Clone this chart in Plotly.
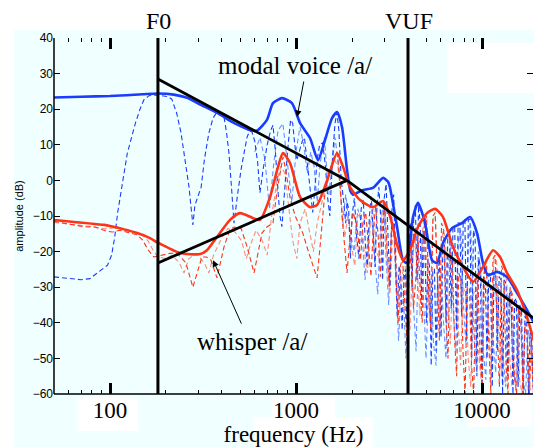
import numpy as np
import plotly.graph_objects as go

# ---------------- data ----------------
modal_env_f = [50, 70, 100, 150, 181, 220, 260, 300, 350, 400, 450, 500, 560, 617, 698, 752, 841, 951, 1052,
               1189, 1312, 1431, 1562, 1662, 1767, 1880, 1960, 2024, 2291, 2593, 2937, 3125, 3200, 3491, 3760,
               3950, 4257, 4528, 4940, 5386, 5730, 6170, 6900, 7800, 8620, 9400, 10120, 10770, 12040, 13620,
               15410, 17440, 19000]
modal_env_db = [23.3, 23.5, 23.7, 24.2, 24.4, 24.1, 23.2, 21.5, 19.8, 18.2, 16.5, 15.3, 14.2, 14.0, 17.0, 21.7,
                23.1, 21.7, 16.1, 11.9, 5.7, 11.3, 17.5, 19.2, 15.0, 3.0, -3.0, -4.0, -2.7, -2.1, 0.7, -0.4,
                -2.0, -13.0, -22.4, -23.2, -10.3, -6.3, -12.0, -22.4, -23.2, -17.6, -13.4, -12.0, -10.3, -14.8,
                -23.2, -26.6, -25.7, -27.1, -31.6, -36.4, -40.0]

whisper_env_f = [50, 93, 100, 140, 164, 181, 238, 305, 332, 376, 442, 500, 588, 640, 725, 800, 851, 929, 1052,
                 1189, 1297, 1469, 1662, 1790, 1950, 2210, 2593, 2937, 3200, 3491, 3760, 4100, 4528, 5060, 5590,
                 6170, 6980, 7900, 8950, 10120, 11460, 12500, 13620, 15410, 17440, 19000]
whisper_env_db = [-11.1, -12.5, -12.8, -14.8, -16.2, -17.5, -20.4, -20.7, -19.6, -15.9, -11.1, -9.2, -10.6, -11.1,
                  -4.7, 3.8, 7.7, 4.9, -4.7, -7.5, -6.9, 0.0, 7.7, 3.8, -1.9, -5.5, -7.5, -5.8, -10.0, -18.0,
                  -22.4, -19.6, -13.1, -9.2, -8.0, -10.3, -18.7, -24.3, -28.5, -24.3, -19.6, -21.5, -26.0, -30.8,
                  -38.4, -45.0]

modal_harm_f = [50, 61, 70, 78, 88, 97, 102, 106, 110, 114, 119, 124, 131, 137, 145, 152, 162, 175, 190, 205, 215,
                228, 241, 255, 266, 272, 279, 286, 298, 309, 322, 340, 358, 376, 393, 410, 423, 436, 450, 464, 485,
                506, 527, 546, 563, 580, 600, 622, 640, 665, 700, 730, 752, 775, 800, 820, 840, 862, 900, 935, 960,
                985, 1010, 1040, 1080, 1110, 1150, 1190, 1230, 1260, 1300, 1340, 1390, 1440, 1480, 1520, 1570, 1620,
                1660, 1700, 1750, 1800, 1850, 1880, 1920, 1960, 2000, 2060, 2120, 2180, 2240, 2300, 2360, 2420,
                2480, 2540, 2600, 2660, 2720, 2790, 2850, 2920, 2980, 3050, 3120, 3200, 3280, 3350, 3420, 3500,
                3580, 3650, 3720, 3800, 3880, 3960, 4040, 4120, 4200, 4290, 4380, 4470, 4560, 4650, 4740, 4830,
                4920, 5020, 5120, 5220, 5330, 5440, 5550, 5660, 5780, 5900, 6020, 6150, 6280, 6410, 6550, 6690,
                6830, 6980, 7130, 7280, 7440, 7600, 7760, 7920, 8090, 8260, 8440, 8620, 8800, 8990, 9180, 9380,
                9580, 9790, 10000, 10200, 10420, 10650, 10880, 11110, 11350, 11600, 11850, 12100, 12360, 12630,
                12900, 13180, 13460, 13750, 14050, 14350, 14660, 14980, 15300, 15630, 15970, 16310, 16660, 17020,
                17390, 17770, 18150, 18550, 18900]
modal_harm_db = [-27.1, -27.5, -27.9, -27.6, -25.5, -23.8, -21, -16, -9, -3.5, 2, 7.7, 12.5, 16.1, 20, 22.6, 23.8,
                 24, 23.8, 23.5, 22.8, 19, 13.3, 5, -1.9, -7, -12.5, -7, -4, -1.9, 6, 13.3, 17.5, 19.2, 19, 17.8,
                 13.5, 7.7, -2, -12, -4, 2.9, 8, 12.2, 13.8, 13.6, 11, 5, -3.5, 3, 10, 14, 15.5, 8, -3, -10, -13,
                 -5, 8, 17, 16, 10, 5.7, 8, 11, 12, 5, -3, -9, -3, 6, 10, 10.5, 4, -5, -10, 6, 16, 19, 14, 0, -5.5,
                 -12, -6, -8, -22, -10, -5, -16, -22, -8, -5.5, -18, -24, -10, -4.6, -14, -24.3, -8, -1.9, -10, -28,
                 -5, -1, -15, -30, -8, -4, -20, -38, -24, -26, -42, -28, -25, -45, -20, -12, -30, -11, -7, -28, -7,
                 -12, -35, -14, -14, -40, -22, -24, -52, -25, -25, -48, -27, -22, -44, -20, -18, -40, -15, -14, -36,
                 -13, -13, -42, -12, -12, -38, -12, -11, -45, -11, -11, -50, -14, -16, -55, -22, -24, -60, -27, -28,
                 -50, -26, -27, -58, -26, -27, -48, -27, -28, -60, -28, -29, -55, -31, -32, -60, -33, -34, -58, -35,
                 -37, -60, -38, -40, -60, -42, -46, -60]

modal_harm2_f = [600, 640, 680, 720, 760, 800, 850, 900, 950, 1000, 1050, 1100, 1150, 1200, 1250, 1300, 1350, 1420,
                 1500, 1560, 1620, 1700, 1780, 1850, 1950, 2050, 2150, 2250, 2350, 2450, 2550, 2650, 2750, 2850,
                 2950, 3050, 3150, 3250, 3350, 3450, 3560, 3670, 3780, 3900, 4020, 4150, 4280, 4420, 4560, 4700,
                 4850, 5000, 5160, 5320, 5490, 5660, 5840, 6020, 6210, 6400, 6600, 6810, 7020, 7240, 7470, 7700,
                 7940, 8190, 8450, 8710, 8980, 9260, 9550, 9850, 10160, 10480, 10800, 11140, 11490, 11850, 12220,
                 12600, 13000, 13400, 13820, 14260, 14700, 15160, 15640, 16130, 16630, 17150, 17690, 18240, 18800]
modal_harm2_db = [8, 12, 6, -8, 5, 14, 16, 5, -6, 8, 15, 10, 2, 8, 4, -6, 5, 12, -4, 4, 12, 4, -12, -4, -14, -20,
                  -8, -12, -28, -14, -10, -22, -32, -12, -6, -22, -35, -15, -12, -30, -45, -30, -32, -50, -28, -15,
                  -35, -48, -18, -16, -36, -50, -30, -28, -46, -52, -30, -26, -40, -50, -22, -18, -38, -48, -16, -14,
                  -35, -46, -16, -14, -40, -52, -20, -26, -48, -56, -30, -30, -45, -54, -30, -31, -50, -58, -32, -34,
                  -52, -58, -37, -40, -56, -60, -42, -46, -58]

whisper_harm_f = [50, 62, 72, 83, 95, 103, 113, 125, 140, 150, 160, 172, 190, 210, 229, 256, 279, 301, 312, 330, 349,
                  376, 410, 440, 464, 506, 546, 595, 625, 656, 700, 752, 790, 830, 851, 880, 930, 990, 1088, 1150,
                  1230, 1297, 1350, 1420, 1500, 1600, 1662, 1720, 1780, 1880, 1950, 2030, 2129, 2220, 2290, 2370,
                  2450, 2530, 2600, 2680, 2760, 2840, 2920, 3000, 3080, 3170, 3260, 3350, 3440, 3540, 3640, 3740,
                  3840, 3950, 4060, 4170, 4280, 4400, 4520, 4640, 4770, 4900, 5030, 5170, 5310, 5450, 5600, 5750,
                  5900, 6060, 6220, 6390, 6560, 6740, 6920, 7110, 7300, 7500, 7700, 7900, 8110, 8330, 8550, 8780,
                  9020, 9260, 9510, 9770, 10030, 10300, 10580, 10860, 11150, 11450, 11760, 12080, 12400, 12740,
                  13080, 13430, 13790, 14160, 14540, 14930, 15330, 15740, 16160, 16600, 17040, 17500, 17970, 18450,
                  18900]
whisper_harm_db = [-11.5, -12.5, -13, -13.1, -14.2, -14.5, -14, -14.6, -15.3, -16.8, -19.5, -21.5, -21, -20.5,
                   -20.4, -23.2, -30, -24.3, -21.5, -21.5, -22.4, -27.4, -18.7, -14, -13.1, -13.4, -18.7, -26, -20,
                   -14.8, -13, -12, -3, 4, 6.6, 3, -5, -10, -14.8, -19, -24, -27.4, -18, -5, 2, 6.5, 7.7, 0, -12,
                   -26, -16, -9, -13, -22.4, -12, -9, -18, -27, -14, -7.5, -15, -27.1, -12, -7, -18, -30, -14, -12,
                   -26, -40, -24, -22, -34, -45, -26, -20, -36, -28, -15, -30, -40, -12, -10, -32, -42, -10, -9, -30,
                   -45, -12, -14, -38, -50, -20, -22, -44, -55, -26, -28, -48, -60, -30, -30, -52, -60, -30, -28, -50,
                   -58, -26, -24, -45, -60, -22, -21, -42, -58, -24, -26, -50, -60, -30, -32, -55, -60, -35, -37, -60,
                   -40, -43, -60, -45, -60]

whisper_harm2_f = [50, 65, 80, 95, 110, 125, 140, 150, 160, 170, 181, 200, 215, 235, 250, 265, 290, 320, 340, 360,
                   400, 430, 470, 510, 540, 570, 610, 660, 700, 740, 790, 830, 870, 920, 960, 1010, 1050, 1120, 1180,
                   1240, 1300, 1380, 1450, 1530, 1600, 1680, 1760, 1830, 1900, 1980, 2070, 2150, 2240, 2330, 2420,
                   2510, 2600, 2700, 2800, 2900, 3000, 3100, 3200, 3300, 3400, 3500, 3620, 3740, 3860, 3980, 4100,
                   4230, 4360, 4500, 4640, 4790, 4940, 5100, 5260, 5430, 5600, 5780, 5960, 6150, 6350, 6550, 6760,
                   6980, 7200, 7430, 7670, 7920, 8170, 8430, 8700, 8980, 9270, 9570, 9880, 10200, 10530, 10870,
                   11220, 11580, 11950, 12340, 12740, 13150, 13580, 14020, 14470, 14940, 15420, 15920, 16430, 16960,
                   17510, 18080, 18660]
whisper_harm2_db = [-11.8, -12.4, -13, -13.6, -13.2, -13.8, -14.8, -15.5, -17, -19.5, -21.5, -22, -21, -23, -26,
                    -22, -20.5, -23, -26, -21, -16, -13.5, -14.5, -17, -22, -18, -14, -17, -21, -10, 0, 4, 2, -8,
                    -17, -22, -12, -8, -14, -20, -12, -6, -2, 3, 6, 4, -8, -16, -10, -18, -24, -10, -9, -20, -26,
                    -12, -8, -20, -22, -9, -8, -24, -32, -16, -14, -28, -36, -26, -24, -36, -42, -22, -16, -28, -38,
                    -14, -11, -30, -40, -11, -10, -28, -40, -14, -16, -34, -46, -22, -24, -40, -52, -30, -32, -50,
                    -58, -32, -30, -48, -56, -26, -23, -40, -54, -22, -22, -40, -55, -26, -28, -48, -58, -34, -36,
                    -56, -60, -41, -44, -58, -60]

modal_tilt_f = [181, 1880, 18800]
modal_tilt_db = [28.5, 0.0, -38.6]
whisper_tilt_f = [181, 1880]
whisper_tilt_db = [-23.2, 0.0]

F0_HZ = 181
VUF_HZ = 4000
y_range = [-60, 40]
x_major = [100, 1000, 10000]
x_major_text = ["100", "1000", "10000"]
x_minor = [60, 70, 80, 90, 200, 300, 400, 500, 600, 700, 800, 900,
           2000, 3000, 4000, 5000, 6000, 7000, 8000, 9000]
y_ticks = [-60, -50, -40, -30, -20, -10, 0, 10, 20, 30, 40]

# ---------------- figure ----------------
W, H = 534, 447
L, R, T, B = 54, 1, 38, 53
pw, ph = W - L - R, H - T - B


def px_x(p):
    return (p - L) / pw


def px_y(p):
    return (H - B - p) / ph


BLUE = "#1a3cff"
LBLUE = "#6f8dff"
RED = "#ff3318"
LRED = "#ff8c7c"
SERIF = "Liberation Serif, Times New Roman, serif"
SANS = "Liberation Sans, Arial, sans-serif"
DASH = "5px,3px"

fig = go.Figure()
fig.add_trace(go.Scatter(x=modal_harm2_f, y=modal_harm2_db, mode="lines",
                         line=dict(color=LBLUE, width=1.1, dash=DASH)))
fig.add_trace(go.Scatter(x=whisper_harm2_f, y=whisper_harm2_db, mode="lines",
                         line=dict(color=LRED, width=1.1, dash=DASH)))
fig.add_trace(go.Scatter(x=modal_harm_f, y=modal_harm_db, mode="lines",
                         line=dict(color=BLUE, width=1.1, dash=DASH)))
fig.add_trace(go.Scatter(x=whisper_harm_f, y=whisper_harm_db, mode="lines",
                         line=dict(color=RED, width=1.1, dash=DASH)))
fig.add_trace(go.Scatter(x=modal_env_f, y=modal_env_db, mode="lines",
                         line=dict(color=BLUE, width=2.6, shape="spline", smoothing=0.6)))
fig.add_trace(go.Scatter(x=whisper_env_f, y=whisper_env_db, mode="lines",
                         line=dict(color=RED, width=2.6, shape="spline", smoothing=0.6)))
fig.add_trace(go.Scatter(x=[F0_HZ, F0_HZ], y=y_range, mode="lines", line=dict(color="black", width=3)))
fig.add_trace(go.Scatter(x=[VUF_HZ, VUF_HZ], y=y_range, mode="lines", line=dict(color="black", width=3)))
fig.add_trace(go.Scatter(x=modal_tilt_f, y=modal_tilt_db, mode="lines", line=dict(color="black", width=2.8)))
fig.add_trace(go.Scatter(x=whisper_tilt_f, y=whisper_tilt_db, mode="lines", line=dict(color="black", width=2.8)))

shapes = []
# white areas of the original composition
white_boxes = [
    (0, 0, W, 30), (0, 0, 14, H),
    (77, 398, 138, 431), (272, 397, 335, 418), (253, 417, 373, H), (468, 393, 532, 427),
    (447, 43, W, 93),
]
for x0, y0, x1, y1 in white_boxes:
    shapes.append(dict(type="rect", xref="paper", yref="paper",
                       x0=px_x(x0), x1=px_x(x1), y0=px_y(y1), y1=px_y(y0),
                       fillcolor="white", line=dict(width=0), layer="below"))
# axis lines (left, bottom)
shapes.append(dict(type="line", xref="paper", yref="paper", x0=0, x1=0, y0=0, y1=1,
                   line=dict(color="black", width=1.5)))
shapes.append(dict(type="line", xref="paper", yref="paper", x0=0, x1=1, y0=0, y1=0,
                   line=dict(color="black", width=1.5)))

annotations = [
    dict(text="F0", xref="paper", yref="paper", x=px_x(158.5), y=px_y(21), showarrow=False,
         font=dict(family=SERIF, size=24, color="black"), xanchor="center", yanchor="middle"),
    dict(text="VUF", xref="paper", yref="paper", x=px_x(408.5), y=px_y(21), showarrow=False,
         font=dict(family=SERIF, size=24, color="black"), xanchor="center", yanchor="middle"),
    dict(text="modal voice /a/", xref="paper", yref="paper", x=px_x(295), y=px_y(65), showarrow=False,
         font=dict(family=SERIF, size=25, color="black"), xanchor="center", yanchor="middle"),
    dict(text="whisper /a/", xref="paper", yref="paper", x=px_x(252), y=px_y(341), showarrow=False,
         font=dict(family=SERIF, size=25, color="black"), xanchor="center", yanchor="middle"),
    dict(text="", x=np.log10(1013), y=17.8, xref="x", yref="y", showarrow=True, ax=7, ay=-37,
         arrowhead=2, arrowsize=1.3, arrowwidth=1, arrowcolor="black"),
    dict(text="", x=np.log10(358), y=-22.4, xref="x", yref="y", showarrow=True, ax=29, ay=65,
         arrowhead=2, arrowsize=1.3, arrowwidth=1, arrowcolor="black"),
]

fig.update_layout(
    template="none",
    width=W, height=H, margin=dict(l=L, r=R, t=T, b=B, pad=0, autoexpand=False),
    paper_bgcolor="#f0ffff", plot_bgcolor="#f0ffff",
    showlegend=False, shapes=shapes, annotations=annotations,
    xaxis=dict(type="log", range=[np.log10(50), 4.274], showgrid=False, zeroline=False, showline=False,
               automargin=False,
               tickmode="array", tickvals=x_major, ticktext=x_major_text, ticks="inside",
               ticklen=11, tickwidth=2.5, tickcolor="black", mirror="ticks",
               tickfont=dict(family=SERIF, size=23, color="black"),
               minor=dict(tickmode="array", tickvals=x_minor, ticks="inside", ticklen=4, tickwidth=1,
                          tickcolor="black", showgrid=False),
               title=dict(text="frequency (Hz)", font=dict(family=SERIF, size=23, color="black"), standoff=2)),
    yaxis=dict(range=y_range, showgrid=False, zeroline=False, showline=False, automargin=False,
               tickmode="array", tickvals=y_ticks, ticks="inside", ticklen=6, tickwidth=1.2,
               tickcolor="black", mirror="ticks",
               tickfont=dict(family=SANS, size=12, color="black"),
               title=dict(text="amplitude (dB)", font=dict(family=SANS, size=11, color="black"), standoff=6)),
)

fig.write_html("out.html", config={"displayModeBar": False},
               post_script="document.body.style.margin='0px';document.body.style.padding='0px';")
